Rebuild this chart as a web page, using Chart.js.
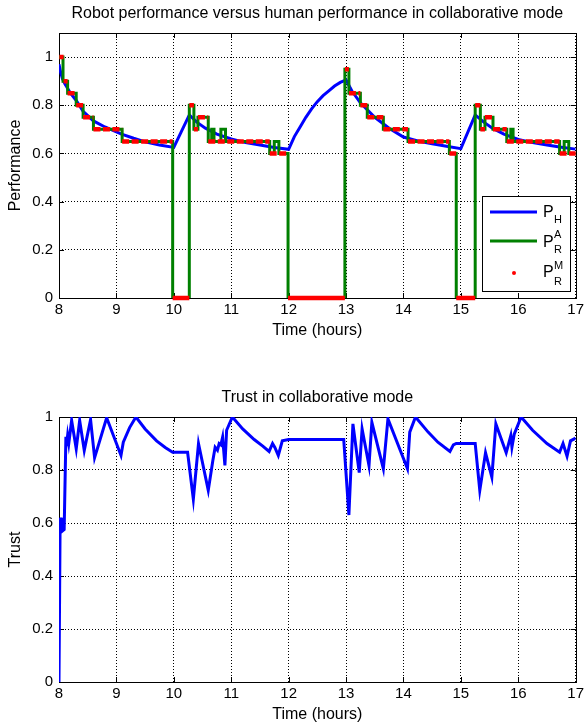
<!DOCTYPE html>
<html>
<head>
<meta charset="utf-8">
<script src="https://cdn.jsdelivr.net/npm/chart.js@4.4.0/dist/chart.umd.min.js"></script>
<style>
  html, body { margin: 0; padding: 0; background: #fff; }
  body { width: 587px; height: 725px; position: relative; overflow: hidden; }
  canvas { position: absolute; left: 0; }
  #perf { top: 0; }
  #trust { top: 343px; }
</style>
</head>
<body>
<canvas id="perf" width="587" height="343"></canvas>
<canvas id="trust" width="587" height="382"></canvas>
<script>
// human performance P_H
const humanTimes = [8.00, 8.03, 8.06, 8.10, 8.20, 8.30, 8.42, 8.60, 8.80, 9.09, 9.30, 9.50, 9.75, 10.00,
  10.27, 10.40, 10.55, 10.75, 11.00, 11.25, 11.50, 11.75, 12.00,
  12.10, 12.20, 12.30, 12.40, 12.50, 12.60, 12.70, 12.80, 12.90, 13.00,
  13.10, 13.25, 13.50, 13.75, 14.00, 14.25, 14.50, 14.75, 15.00,
  15.25, 15.40, 15.55, 15.75, 16.00, 16.25, 16.50, 16.75, 17.00];
const humanValues = [0.97, 0.935, 0.91, 0.89, 0.85, 0.82, 0.775, 0.735, 0.71, 0.68, 0.663, 0.648, 0.635, 0.625,
  0.76, 0.73, 0.705, 0.68, 0.66, 0.645, 0.635, 0.625, 0.617,
  0.67, 0.71, 0.75, 0.785, 0.815, 0.84, 0.86, 0.88, 0.895, 0.905,
  0.86, 0.81, 0.75, 0.705, 0.668, 0.652, 0.64, 0.63, 0.62,
  0.76, 0.73, 0.705, 0.68, 0.658, 0.645, 0.635, 0.626, 0.618];

// robot performance P_R^A (step changes)
const robotATimes = [8.00, 8.07, 8.15, 8.30, 8.42, 8.60, 9.10, 9.98, 10.27, 10.35, 10.42, 10.60, 10.66, 10.70,
  10.82, 10.90, 11.67, 11.75, 11.83, 11.99, 12.98, 13.05, 13.25, 13.37, 13.65, 14.08, 14.80, 14.92,
  15.25, 15.34, 15.42, 15.56, 15.80, 15.87, 15.91, 16.72, 16.80, 16.88, 17.00];
const robotAValues = [1.0, 0.9, 0.85, 0.8, 0.75, 0.7, 0.65, 0, 0.8, 0.7, 0.75, 0.65, 0.7, 0.65,
  0.7, 0.65, 0.6, 0.65, 0.6, 0, 0.95, 0.85, 0.8, 0.75, 0.7, 0.65, 0.6, 0,
  0.8, 0.7, 0.75, 0.7, 0.65, 0.7, 0.65, 0.6, 0.65, 0.6, 0.6];

// robot performance P_R^M (markers, step starts)
const robotMTimes = [8.00, 8.006, 8.08, 8.15, 8.30, 8.42, 8.60, 9.10, 9.98, 10.27, 10.35, 10.42, 10.60, 11.67,
  11.99, 12.98, 13.05, 13.25, 13.37, 13.65, 14.08, 14.80, 14.92, 15.25, 15.34, 15.42, 15.56, 15.80, 16.72, 17.00];
const robotMValues = [0, 1.0, 0.9, 0.85, 0.8, 0.75, 0.7, 0.65, 0, 0.8, 0.7, 0.75, 0.65, 0.6,
  0, 0.95, 0.85, 0.8, 0.75, 0.7, 0.65, 0.6, 0, 0.8, 0.7, 0.75, 0.7, 0.65, 0.6];

// trust
const trustTimes = [8.00, 8.02, 8.03, 8.05, 8.06, 8.09, 8.12, 8.13, 8.15, 8.17, 8.22, 8.30, 8.36, 8.44, 8.55, 8.62,
  8.83, 9.08, 9.12, 9.23, 9.34, 9.50, 9.70, 9.85, 9.98, 10.24, 10.34, 10.43, 10.60, 10.68, 10.72, 10.76,
  10.79, 10.82, 10.85, 10.89, 10.92, 11.02, 11.20, 11.40, 11.55, 11.66, 11.72, 11.76, 11.82, 11.89, 12.00,
  12.96, 13.05, 13.12, 13.23, 13.28, 13.40, 13.45, 13.65, 13.73, 14.07, 14.11, 14.21, 14.43, 14.60, 14.81,
  14.87, 14.92, 15.25, 15.33, 15.43, 15.54, 15.61, 15.79, 15.87, 15.89, 15.93, 16.05, 16.25, 16.50, 16.72,
  16.78, 16.85, 16.91, 17.00];
const trustValues = [0, 0.62, 0.58, 0.62, 0.57, 0.575, 0.925, 0.89, 0.93, 0.90, 0.987, 0.88, 0.987, 0.874, 0.99, 0.846,
  0.997, 0.855, 0.905, 0.96, 1.0, 0.955, 0.91, 0.885, 0.867, 0.867, 0.69, 0.90, 0.723, 0.836, 0.886, 0.875,
  0.90, 0.895, 0.924, 0.817, 0.95, 1.0, 0.955, 0.915, 0.89, 0.87, 0.90, 0.885, 0.855, 0.91, 0.915,
  0.915, 0.63, 0.974, 0.79, 0.955, 0.817, 0.98, 0.805, 0.993, 0.805, 0.943, 1.0, 0.943, 0.905, 0.87,
  0.895, 0.90, 0.90, 0.723, 0.865, 0.773, 0.974, 0.865, 0.93, 0.886, 0.935, 1.0, 0.95, 0.90, 0.867,
  0.90, 0.852, 0.91, 0.92];

const xTicks = [8, 9, 10, 11, 12, 13, 14, 15, 16, 17];

Chart.defaults.font.family = '"Liberation Sans", Arial, sans-serif';
Chart.defaults.font.size = 15;
Chart.defaults.color = '#000';

const toPoints = (xs, ys) => xs.map((x, i) => ({ x: x, y: ys[i] }));

function stepPoints(xs, ys, breaks) {
  const pts = [];
  for (let i = 0; i < ys.length; i++) {
    const end = i + 1 < xs.length ? xs[i + 1] : 17;
    pts.push({ x: xs[i], y: ys[i] }, { x: end, y: ys[i] });
    if (breaks) pts.push({ x: end, y: null });
  }
  return pts;
}

// box + inward ticks
const framePlugin = {
  id: 'frame',
  beforeDatasetsDraw(chart) {
    const { ctx, chartArea: a, scales } = chart;
    ctx.save();
    ctx.strokeStyle = '#000';
    ctx.lineWidth = 1;
    ctx.strokeRect(Math.round(a.left) + 0.5, Math.round(a.top) + 0.5,
      Math.round(a.right - a.left), Math.round(a.bottom - a.top));
    ctx.beginPath();
    scales.x.ticks.forEach(t => {
      const px = Math.round(scales.x.getPixelForValue(t.value)) + 0.5;
      ctx.moveTo(px, a.bottom); ctx.lineTo(px, a.bottom - 5);
      ctx.moveTo(px, a.top); ctx.lineTo(px, a.top + 5);
    });
    scales.y.ticks.forEach(t => {
      const py = Math.round(scales.y.getPixelForValue(t.value)) + 0.5;
      ctx.moveTo(a.left, py); ctx.lineTo(a.left + 5, py);
      ctx.moveTo(a.right, py); ctx.lineTo(a.right - 5, py);
    });
    ctx.stroke();
    ctx.restore();
  }
};

// title centred over the plot box, like matlab
const axesTitlePlugin = {
  id: 'axesTitle',
  afterDraw(chart, args, opts) {
    const { ctx, chartArea: a } = chart;
    ctx.save();
    ctx.fillStyle = '#000';
    ctx.font = '16px "Liberation Sans", Arial, sans-serif';
    ctx.textAlign = 'center';
    ctx.textBaseline = 'middle';
    ctx.fillText(opts.text, (a.left + a.right) / 2, opts.y);
    ctx.restore();
  }
};

const legendPlugin = {
  id: 'perfLegend',
  afterDraw(chart) {
    const ctx = chart.ctx;
    ctx.save();
    ctx.fillStyle = '#fff';
    ctx.fillRect(482, 196, 88, 95);
    ctx.strokeStyle = '#000';
    ctx.lineWidth = 1;
    ctx.strokeRect(482.5, 196.5, 88, 95);
    ctx.lineWidth = 3;
    ctx.strokeStyle = '#0000ff';
    ctx.beginPath(); ctx.moveTo(490, 212); ctx.lineTo(537, 212); ctx.stroke();
    ctx.strokeStyle = '#008000';
    ctx.beginPath(); ctx.moveTo(490, 241); ctx.lineTo(537, 241); ctx.stroke();
    ctx.fillStyle = '#ff0000';
    ctx.beginPath(); ctx.arc(514, 273, 2, 0, Math.PI * 2); ctx.fill();
    ctx.fillStyle = '#000';
    ctx.textBaseline = 'alphabetic';
    ctx.textAlign = 'left';
    const big = '16px "Liberation Sans", Arial, sans-serif';
    const small = '11px "Liberation Sans", Arial, sans-serif';
    ctx.font = big;
    ctx.fillText('P', 543, 217);
    ctx.fillText('P', 543, 247);
    ctx.fillText('P', 543, 277);
    ctx.font = small;
    ctx.fillText('H', 554, 223);
    ctx.fillText('A', 554, 238);
    ctx.fillText('R', 554, 253);
    ctx.fillText('M', 554, 269);
    ctx.fillText('R', 554, 285);
    ctx.restore();
  }
};

function xScale(height, titlePad) {
  return {
    type: 'linear', min: 8, max: 17,
    afterBuildTicks: s => { s.ticks = xTicks.map(v => ({ value: v })); },
    afterFit: s => { s.height = height; },
    ticks: { padding: 3, maxRotation: 0, autoSkip: false },
    grid: { color: '#000', lineWidth: 1, drawTicks: false },
    border: { display: false, dash: [1, 2] },
    title: { display: true, text: 'Time (hours)', font: { size: 16 }, padding: { top: 0, bottom: titlePad } }
  };
}

function yScale(max, label) {
  return {
    type: 'linear', min: 0, max: max,
    afterBuildTicks: s => { s.ticks = s.ticks.filter(t => t.value <= 1.0001); },
    afterFit: s => { s.width = 59; },
    ticks: { stepSize: 0.2, padding: 6, callback: v => String(+v.toFixed(1)) },
    grid: { color: '#000', lineWidth: 1, drawTicks: false },
    border: { display: false, dash: [1, 2] },
    title: { display: true, text: label, font: { size: 16 }, padding: { top: 6, bottom: 0 } }
  };
}

new Chart(document.getElementById('perf'), {
  type: 'line',
  data: {
    datasets: [
      {
        label: 'P_H',
        data: toPoints(humanTimes, humanValues),
        borderColor: '#0000ff', borderWidth: 3, pointRadius: 0, tension: 0, order: 3
      },
      {
        label: 'P_R^A',
        data: stepPoints(robotATimes, robotAValues, false),
        borderColor: '#008000', borderWidth: 3, pointRadius: 0, tension: 0, order: 2
      },
      {
        label: 'P_R^M',
        data: stepPoints(robotMTimes, robotMValues, true),
        borderColor: '#ff0000', borderWidth: 4.5, pointRadius: 0, tension: 0, order: 1,
        spanGaps: false, borderCapStyle: 'butt', clip: 4,
        segment: { borderDash: c => (c.p0.parsed.y === 0 ? [] : [7, 2.5]) }
      }
    ]
  },
  options: {
    responsive: false,
    animation: false,
    layout: { padding: { right: 9, left: 0, top: 33, bottom: 0 } },
    plugins: {
      legend: { display: false },
      tooltip: { enabled: false },
      axesTitle: { text: 'Robot performance versus human performance in collaborative mode', y: 14 }
    },
    scales: {
      x: xScale(45, 2.4),
      y: yScale(1.1, 'Performance')
    }
  },
  plugins: [framePlugin, axesTitlePlugin, legendPlugin]
});

new Chart(document.getElementById('trust'), {
  type: 'line',
  data: {
    datasets: [{
      label: 'Trust',
      data: toPoints(trustTimes, trustValues),
      borderColor: '#0000ff', borderWidth: 3, pointRadius: 0, tension: 0
    }]
  },
  options: {
    responsive: false,
    animation: false,
    layout: { padding: { right: 9, left: 0, top: 74, bottom: 0 } },
    plugins: {
      legend: { display: false },
      tooltip: { enabled: false },
      axesTitle: { text: 'Trust in collaborative mode', y: 55 }
    },
    scales: {
      x: xScale(43, 0.4),
      y: yScale(1, 'Trust')
    }
  },
  plugins: [framePlugin, axesTitlePlugin]
});
</script>
</body>
</html>
